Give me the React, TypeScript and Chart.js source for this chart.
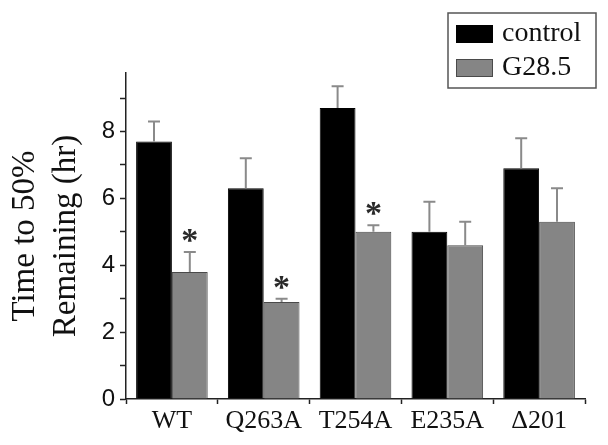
import React, { useEffect, useRef } from 'react';
import { Chart, registerables } from 'chart.js';

Chart.register(...registerables);

const categories = ['WT', 'Q263A', 'T254A', 'E235A', 'Δ201'];
const seriesLabels = ['control', 'G28.5'];
const controlValues = [7.7, 6.3, 8.7, 5.0, 6.9];
const controlErrors = [0.6, 0.9, 0.65, 0.9, 0.9];
const g285Values = [3.8, 2.9, 5.0, 4.6, 5.3];
const g285Errors = [0.6, 0.1, 0.2, 0.7, 1.0];
const g285Significant = [true, true, true, false, false];
const yTickLabels = [0, 2, 4, 6, 8];
const yAxisTitle = ['Time to 50%', 'Remaining (hr)'];

const SERIF = '"Liberation Serif", "Times New Roman", serif';
const SANS = '"Liberation Sans", Arial, sans-serif';

const errorBarPlugin = {
  id: 'errorBars',
  afterDatasetsDraw(chart: any) {
    const ctx = chart.ctx;
    const yScale = chart.scales.y;
    chart.data.datasets.forEach((ds: any, di: number) => {
      const meta = chart.getDatasetMeta(di);
      meta.data.forEach((el: any, i: number) => {
        const v = ds.data[i];
        const e = ds.errors[i];
        const yTop = yScale.getPixelForValue(v + e);
        const yBar = yScale.getPixelForValue(v);
        ctx.save();
        ctx.strokeStyle = '#8a8a8a';
        ctx.lineWidth = 2;
        ctx.beginPath();
        ctx.moveTo(el.x, yBar);
        ctx.lineTo(el.x, yTop);
        ctx.moveTo(el.x - 6, yTop);
        ctx.lineTo(el.x + 6, yTop);
        ctx.stroke();
        if (ds.marks && ds.marks[i]) {
          ctx.fillStyle = '#2a2a2a';
          ctx.font = `bold 34px ${SERIF}`;
          ctx.textAlign = 'center';
          ctx.textBaseline = 'alphabetic';
          ctx.fillText('*', el.x, yTop - 1);
        }
        ctx.restore();
      });
    });
  },
};

const boxLegendPlugin = {
  id: 'boxLegend',
  afterDraw(chart: any) {
    const ctx = chart.ctx;
    const left = 448, top = 13, right = 596, bottom = 88;
    ctx.save();
    ctx.strokeStyle = '#555';
    ctx.lineWidth = 1.5;
    ctx.strokeRect(left, top, right - left, bottom - top);
    chart.data.datasets.forEach((ds: any, i: number) => {
      const sy = 25 + i * 34;
      ctx.fillStyle = ds.backgroundColor;
      ctx.fillRect(456, sy, 37, 18);
      ctx.strokeStyle = ds.borderColor;
      ctx.lineWidth = 1;
      ctx.strokeRect(456.5, sy + 0.5, 36, 17);
      ctx.fillStyle = '#111';
      ctx.font = `28px ${SERIF}`;
      ctx.textAlign = 'left';
      ctx.textBaseline = 'middle';
      ctx.fillText(ds.label, 502, sy + 9);
    });
    ctx.restore();
  },
};

export default function App() {
  const canvasRef = useRef<HTMLCanvasElement | null>(null);

  useEffect(() => {
    if (!canvasRef.current) return;
    const chart = new Chart(canvasRef.current, {
      type: 'bar',
      data: {
        labels: categories,
        datasets: [
          {
            label: seriesLabels[0],
            data: controlValues,
            errors: controlErrors,
            backgroundColor: '#000000',
            borderColor: '#000000',
            borderWidth: 1,
          } as any,
          {
            label: seriesLabels[1],
            data: g285Values,
            errors: g285Errors,
            marks: g285Significant,
            backgroundColor: '#858585',
            borderColor: '#4a4a4a',
            borderWidth: 1,
          } as any,
        ],
      },
      options: {
        responsive: false,
        animation: false,
        devicePixelRatio: 1,
        layout: { padding: { top: 73, right: 23, left: 0, bottom: 0 } },
        datasets: { bar: { categoryPercentage: 0.78, barPercentage: 1 } },
        plugins: {
          legend: { display: false },
          tooltip: { enabled: false },
        },
        scales: {
          x: {
            afterFit: (s: any) => { s.height = 46; },
            grid: { display: true, offset: true, drawOnChartArea: false, drawTicks: true, tickLength: 5, tickColor: '#222', tickWidth: 1.5 },
            border: { display: true, color: '#222', width: 1.5 },
            ticks: { color: '#111', font: { family: SERIF, size: 26 }, padding: 2, maxRotation: 0, autoSkip: false },
          },
          y: {
            min: 0,
            max: 9.75,
            afterFit: (s: any) => { s.width = 126; },
            grid: { display: true, drawOnChartArea: false, drawTicks: true, tickLength: 6, tickColor: '#222', tickWidth: 1.5 },
            border: { display: true, color: '#222', width: 1.5 },
            ticks: {
              stepSize: 1,
              includeBounds: false,
              color: '#111',
              padding: 5,
              font: { family: SANS, size: 24 },
              callback: (v: any) => (yTickLabels.includes(Number(v)) ? String(v) : ''),
            },
            title: {
              display: true,
              text: yAxisTitle,
              color: '#111',
              font: { family: SERIF, size: 33, lineHeight: 1.24 },
              padding: { top: 5, bottom: 0 },
            },
          },
        },
      },
      plugins: [errorBarPlugin, boxLegendPlugin],
    } as any);
    return () => chart.destroy();
  }, []);

  return (
    <div style={{ position: 'fixed', left: 0, top: 0, width: 608, height: 445, background: '#fff' }}>
      <canvas ref={canvasRef} width={608} height={445} />
    </div>
  );
}
